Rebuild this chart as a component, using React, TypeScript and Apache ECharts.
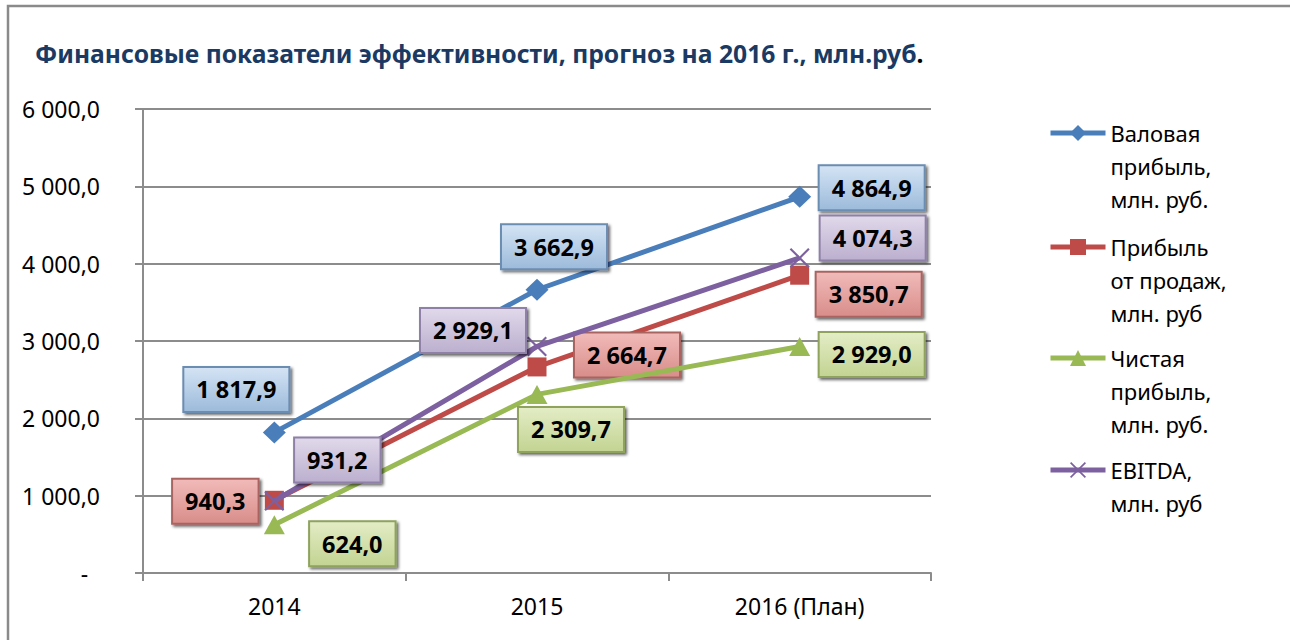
import React, { useEffect, useRef } from "react";
import * as echarts from "echarts";

const categories = ["2014", "2015", "2016 (План)"];
const grossProfit = [1817.9, 3662.9, 4864.9];
const salesProfit = [940.3, 2664.7, 3850.7];
const netProfit = [624.0, 2309.7, 2929.0];
const ebitda = [931.2, 2929.1, 4074.3];
const seriesNames = [
  "Валовая\nприбыль,\nмлн. руб.",
  "Прибыль\nот продаж,\nмлн. руб",
  "Чистая\nприбыль,\nмлн. руб.",
  "EBITDA,\nмлн. руб",
];
const titleText = "Финансовые показатели эффективности, прогноз на 2016 г., млн.руб";

// label box offsets (px) relative to each point
const labelOffsets = [
  [[-38, -43], [17, -43], [72, -9]],
  [[-59, 1], [90, -12], [69, 19]],
  [[78, 19], [34, 35], [72, 8]],
  [[63, -41], [-64, -16], [73, -20]],
];

const FONT = "'Noto Sans', 'Open Sans', sans-serif";

function fmt(v: number): string {
  const s = v.toFixed(1);
  const [i, d] = s.split(".");
  const withSep = i.replace(/\B(?=(\d{3})+(?!\d))/g, " ");
  return withSep + "," + d;
}

const lineColors = ["#4A7EBB", "#BE4B48", "#98B954", "#7D60A0"];
const boxStyles = [
  { top: "#D3E3F4", bottom: "#9DBBDB", border: "#6C8DB2" },
  { top: "#F0BAB8", bottom: "#D98E8B", border: "#A96461" },
  { top: "#E3ECC5", bottom: "#C3D493", border: "#8FA35E" },
  { top: "#E0D8EA", bottom: "#BCB0CF", border: "#8E80A6" },
];
const symbols = [
  { symbol: "diamond", size: [23, 22] },
  { symbol: "rect", size: [19, 19] },
  { symbol: "triangle", size: [21, 19] },
  {
    symbol:
      "path://M0,1.5 L1.5,0 L10,8.5 L18.5,0 L20,1.5 L11.5,10 L20,18.5 L18.5,20 L10,11.5 L1.5,20 L0,18.5 L8.5,10 Z",
    size: [20, 20],
  },
];
const legendCenters = [133, 247, 358, 470];

export default function App() {
  const ref = useRef<HTMLDivElement>(null);
  useEffect(() => {
    if (!ref.current) return;
    const chart = echarts.init(ref.current, undefined, { renderer: "svg" });
    const values = [grossProfit, salesProfit, netProfit, ebitda];
    const LH = 33;

    const series = values.map((vals, si) => ({
      name: seriesNames[si],
      type: "line",
      data: vals.map((v, i) => ({
        value: v,
        label: { offset: labelOffsets[si][i] },
      })),
      symbol: symbols[si].symbol,
      symbolSize: symbols[si].size,
      showAllSymbol: true,
      lineStyle: { color: lineColors[si], width: 5 },
      itemStyle: { color: lineColors[si] },
      z: 2 + si,
      label: {
        show: true,
        position: "inside",
        formatter: (p: any) => fmt(p.value),
        fontFamily: FONT,
        fontWeight: "bold",
        fontSize: 23.5,
        lineHeight: 25,
        color: "#000",
        padding: [9, 12, 9, 12],
        backgroundColor: {
          type: "linear",
          x: 0,
          y: 0,
          x2: 0,
          y2: 1,
          colorStops: [
            { offset: 0, color: boxStyles[si].top },
            { offset: 1, color: boxStyles[si].bottom },
          ],
        },
        borderColor: boxStyles[si].border,
        borderWidth: 2,
        shadowColor: "rgba(0,0,0,0.6)",
        shadowBlur: 3,
        shadowOffsetX: 2,
        shadowOffsetY: 2,
      },
      emphasis: { disabled: true },
    }));

    const legends = seriesNames.map((name, si) => {
      const nLines = name.split("\n").length;
      const total = (2 * nLines - 1) * LH;
      return {
        data: [name],
        orient: "vertical",
        left: 1048,
        top: legendCenters[si] - total / 2,
        padding: 0,
        itemWidth: 55,
        itemHeight: 20,
        itemGap: 0,
        selectedMode: false,
        lineStyle: { width: 5 },
        formatter: (n: string) => "\n".repeat(nLines - 1) + n,
        textStyle: {
          fontFamily: FONT,
          fontSize: 22,
          lineHeight: LH,
          color: "#000",
        },
      };
    });

    chart.setOption({
      animation: false,
      title: {
        text: "{a|" + titleText + "}{b|.}",
        left: 30,
        top: 36,
        textStyle: {
          rich: {
            a: { fontFamily: FONT, fontSize: 24.7, fontWeight: "bold", color: "#1B3A63" },
            b: { fontFamily: FONT, fontSize: 24.7, fontWeight: "bold", color: "#000" },
          },
        },
      },
      legend: legends,
      grid: { left: 143, right: 359, top: 109, bottom: 67, containLabel: false },
      xAxis: {
        type: "category",
        data: categories,
        boundaryGap: true,
        axisLine: { lineStyle: { color: "#8C8C8C", width: 2 } },
        axisTick: { show: true, length: 8, lineStyle: { color: "#8C8C8C", width: 2 } },
        axisLabel: { fontFamily: FONT, fontSize: 23, color: "#000", margin: 21 },
        splitLine: { show: false },
      },
      yAxis: {
        type: "value",
        min: 0,
        max: 6000,
        interval: 1000,
        axisLine: { show: true, lineStyle: { color: "#8C8C8C", width: 2 } },
        axisTick: { show: true, length: 8, lineStyle: { color: "#8C8C8C", width: 2 } },
        axisLabel: {
          fontFamily: FONT,
          fontSize: 23,
          color: "#000",
          margin: 43,
          formatter: (v: number) => (v === 0 ? "-\u00A0\u00A0" : fmt(v)),
        },
        splitLine: { show: true, lineStyle: { color: "#8C8C8C", width: 2 } },
      },
      graphic: [
        {
          type: "rect",
          shape: { x: 8, y: 6, width: 1400, height: 800 },
          style: { fill: "none", stroke: "#8A8A8A", lineWidth: 2.5 },
          silent: true,
          z: -10,
        },
      ],
      series,
    });
    return () => chart.dispose();
  }, []);
  return (
    <div
      ref={ref}
      style={{ position: "absolute", left: 0, top: 0, width: 1290, height: 640, background: "#fff" }}
    />
  );
}
